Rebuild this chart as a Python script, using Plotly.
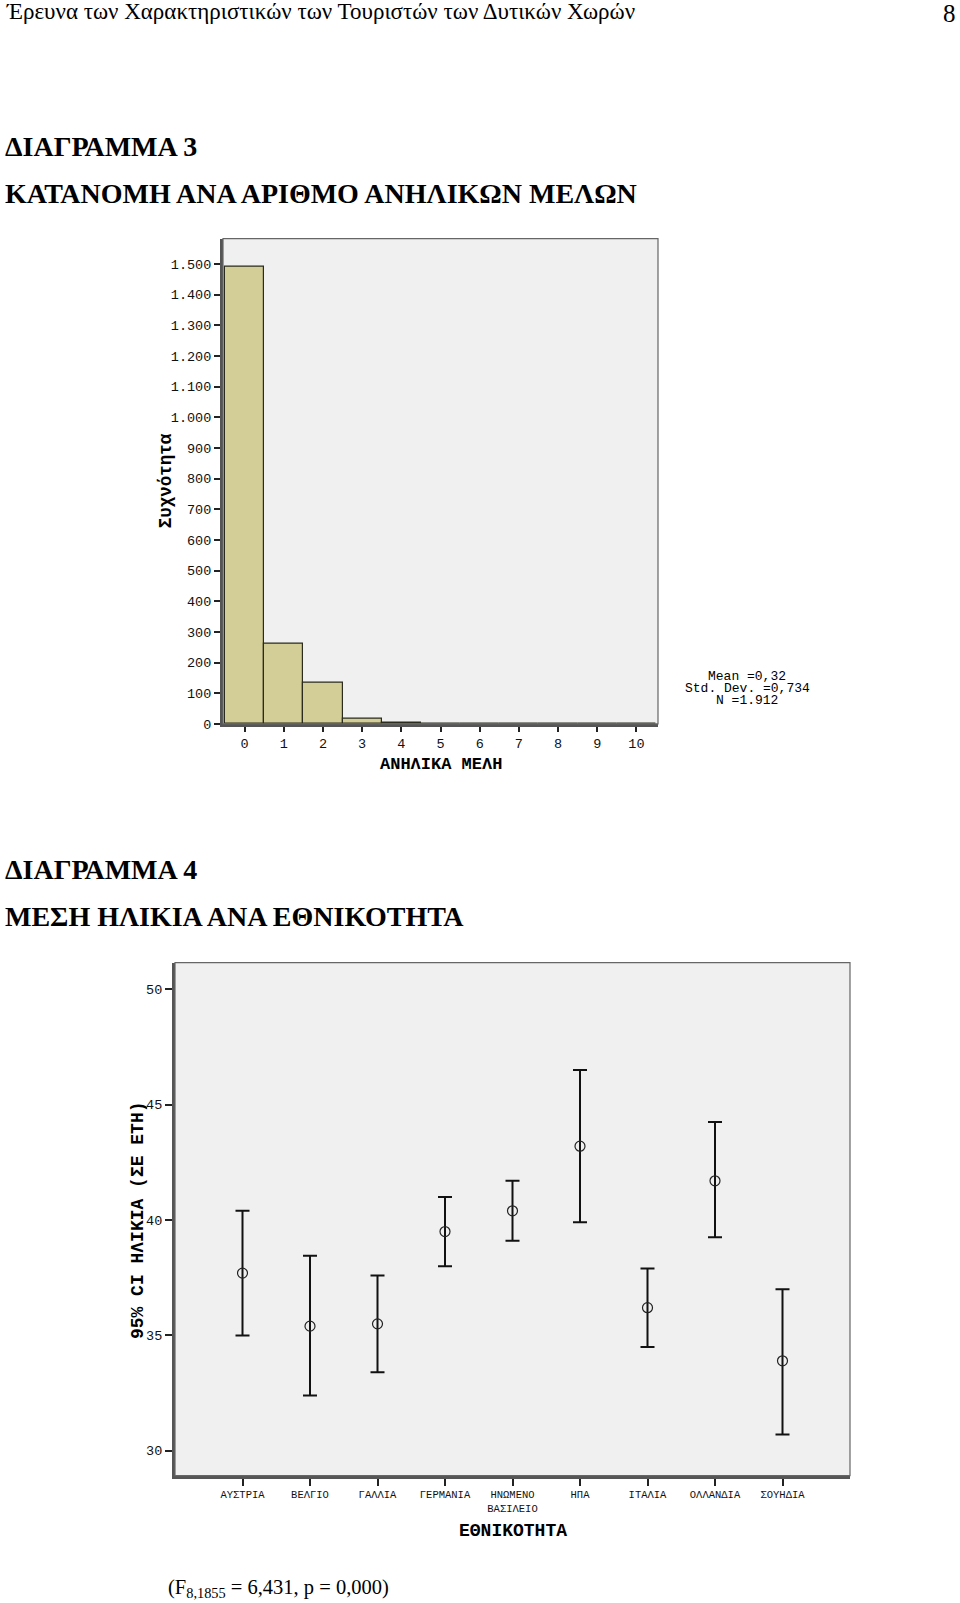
import plotly.graph_objects as go

W, H = 960, 1603

# ---------------- data ----------------
minors_values = [0, 1, 2, 3, 4, 5, 6, 7, 8, 9, 10]
minors_counts = [1492, 263, 134, 17, 3, 0, 1, 0, 0, 1, 1]
hist_ytick_vals = [0, 100, 200, 300, 400, 500, 600, 700, 800, 900, 1000, 1100, 1200, 1300, 1400, 1500]
hist_ytick_text = ["0", "100", "200", "300", "400", "500", "600", "700", "800", "900",
                   "1.000", "1.100", "1.200", "1.300", "1.400", "1.500"]
stats_text = ["Mean =0,32", "Std. Dev. =0,734", "N =1.912"]

countries = ["ΑΥΣΤΡΙΑ", "ΒΕΛΓΙΟ", "ΓΑΛΛΙΑ", "ΓΕΡΜΑΝΙΑ", "ΗΝΩΜΕΝΟ<br>ΒΑΣΙΛΕΙΟ",
             "ΗΠΑ", "ΙΤΑΛΙΑ", "ΟΛΛΑΝΔΙΑ", "ΣΟΥΗΔΙΑ"]
age_mean = [37.7, 35.4, 35.5, 39.5, 40.4, 43.2, 36.2, 41.7, 33.9]
age_lower = [35.0, 32.4, 33.4, 38.0, 39.1, 39.9, 34.5, 39.25, 30.7]
age_upper = [40.4, 38.45, 37.6, 41.0, 41.7, 46.5, 37.9, 44.25, 37.0]
age_ytick_vals = [30, 35, 40, 45, 50]

# ---------------- helpers ----------------
def px(x):
    return x / W

def py(y):
    return 1 - y / H

MONO = "Liberation Mono"
SERIF = "Liberation Serif"

fig = go.Figure()

# Histogram
fig.add_trace(go.Bar(
    x=minors_values, y=minors_counts, width=1.0,
    marker=dict(color="#d3ce97", line=dict(color="#2b2b1e", width=1.2)),
    xaxis="x", yaxis="y", showlegend=False,
))

# Error bars
err_plus = [u - m for u, m in zip(age_upper, age_mean)]
err_minus = [m - l for m, l in zip(age_mean, age_lower)]
fig.add_trace(go.Scatter(
    x=countries, y=age_mean, mode="markers",
    marker=dict(symbol="circle-open", size=10, color="#222", line=dict(width=1.2)),
    error_y=dict(type="data", symmetric=False, array=err_plus, arrayminus=err_minus,
                 color="#111", thickness=2, width=7),
    xaxis="x2", yaxis="y2", showlegend=False,
))

# plot area geometry (pixels)
p1 = dict(l=223, r=658, t=240, b=728)
p2 = dict(l=175, r=850, t=968, b=1484)

tickfont = dict(family=MONO, size=13.5, color="#111")

fig.update_layout(
    width=W, height=H,
    margin=dict(l=0, r=0, t=0, b=0),
    paper_bgcolor="white",
    plot_bgcolor="#f0f0f0",
    bargap=0,
    xaxis=dict(domain=[px(p1["l"]), px(p1["r"])], range=[-0.55, 10.55],
               tickvals=minors_values, ticktext=[str(v) for v in minors_values],
               ticks="outside", ticklen=5, tickwidth=2, tickcolor="#222",
               showline=True, linecolor="#555", linewidth=3,
               showgrid=False, zeroline=False, tickfont=tickfont, anchor="y"),
    yaxis=dict(domain=[py(p1["b"]), py(p1["t"])], range=[0, 1583],
               tickvals=hist_ytick_vals, ticktext=hist_ytick_text,
               ticks="outside", ticklen=6, tickwidth=2, tickcolor="#222",
               showline=True, linecolor="#555", linewidth=3,
               showgrid=False, zeroline=False, tickfont=tickfont, anchor="x"),
    xaxis2=dict(domain=[px(p2["l"]), px(p2["r"])], range=[-1, 9],
                type="category", categoryorder="array", categoryarray=countries,
                ticks="outside", ticklen=7, tickwidth=2, tickcolor="#222",
                showline=True, linecolor="#555", linewidth=3,
                showgrid=False, zeroline=False,
                tickfont=dict(family=MONO, size=10.5, color="#111"), anchor="y2"),
    yaxis2=dict(domain=[py(p2["b"]), py(p2["t"])], range=[28.92, 51.16],
                tickvals=age_ytick_vals,
                ticks="outside", ticklen=7, tickwidth=2, tickcolor="#222",
                showline=True, linecolor="#555", linewidth=3,
                showgrid=False, zeroline=False,
                tickfont=dict(family=MONO, size=13.5, color="#111"), anchor="x2"),
)

# thin frame top/right
for p in (p1, p2):
    fig.add_shape(type="rect", xref="paper", yref="paper",
                  x0=px(p["l"]), x1=px(p["r"]), y0=py(p["b"]), y1=py(p["t"]),
                  line=dict(color="#666", width=1.2), fillcolor="rgba(0,0,0,0)", layer="above")

ann = []
def text(x, y, s, size, family=SERIF, bold=False, xanchor="left", angle=0, color="#000"):
    ann.append(dict(x=px(x), y=py(y), xref="paper", yref="paper", text=(f"<b>{s}</b>" if bold else s),
                    showarrow=False, xanchor=xanchor, yanchor="middle", textangle=angle,
                    font=dict(family=family, size=size, color=color)))

# page header
text(4, 12, "Έρευνα των Χαρακτηριστικών των Τουριστών των Δυτικών Χωρών", 23)
text(958, 14, "8", 25, xanchor="right")

# section headings
text(3, 147, "ΔΙΑΓΡΑΜΜΑ 3", 28, bold=True)
text(3, 195, "ΚΑΤΑΝΟΜΗ ΑΝΑ ΑΡΙΘΜΟ ΑΝΗΛΙΚΩΝ ΜΕΛΩΝ", 28, bold=True)
text(3, 874, "ΔΙΑΓΡΑΜΜΑ 4", 28, bold=True)
text(3, 922, "ΜΕΣΗ ΗΛΙΚΙΑ ΑΝΑ ΕΘΝΙΚΟΤΗΤΑ", 28, bold=True)

# axis titles
text(166, 484, "Συχνότητα", 17.5, family=MONO, bold=True, xanchor="center", angle=-90)
text(441, 769, "ΑΝΗΛΙΚΑ ΜΕΛΗ", 17, family=MONO, bold=True, xanchor="center")
text(138, 1227, "95% CI ΗΛΙΚΙΑ (ΣΕ ΕΤΗ)", 18, family=MONO, bold=True, xanchor="center", angle=-90)
text(513, 1540, "ΕΘΝΙΚΟΤΗΤΑ", 18, family=MONO, bold=True, xanchor="center")

# stats box
for i, s in enumerate(stats_text):
    text(747, 680 + 12.3 * i, s, 13, family=MONO, xanchor="center")

# F statistic
text(166, 1597, "(F<sub>8,1855</sub> = 6,431, p = 0,000)", 20.5)

fig.update_layout(annotations=ann)
fig.write_html("out.html",
               config={"displayModeBar": False},
               post_script="document.body.style.margin='0';document.body.style.overflow='hidden';")
